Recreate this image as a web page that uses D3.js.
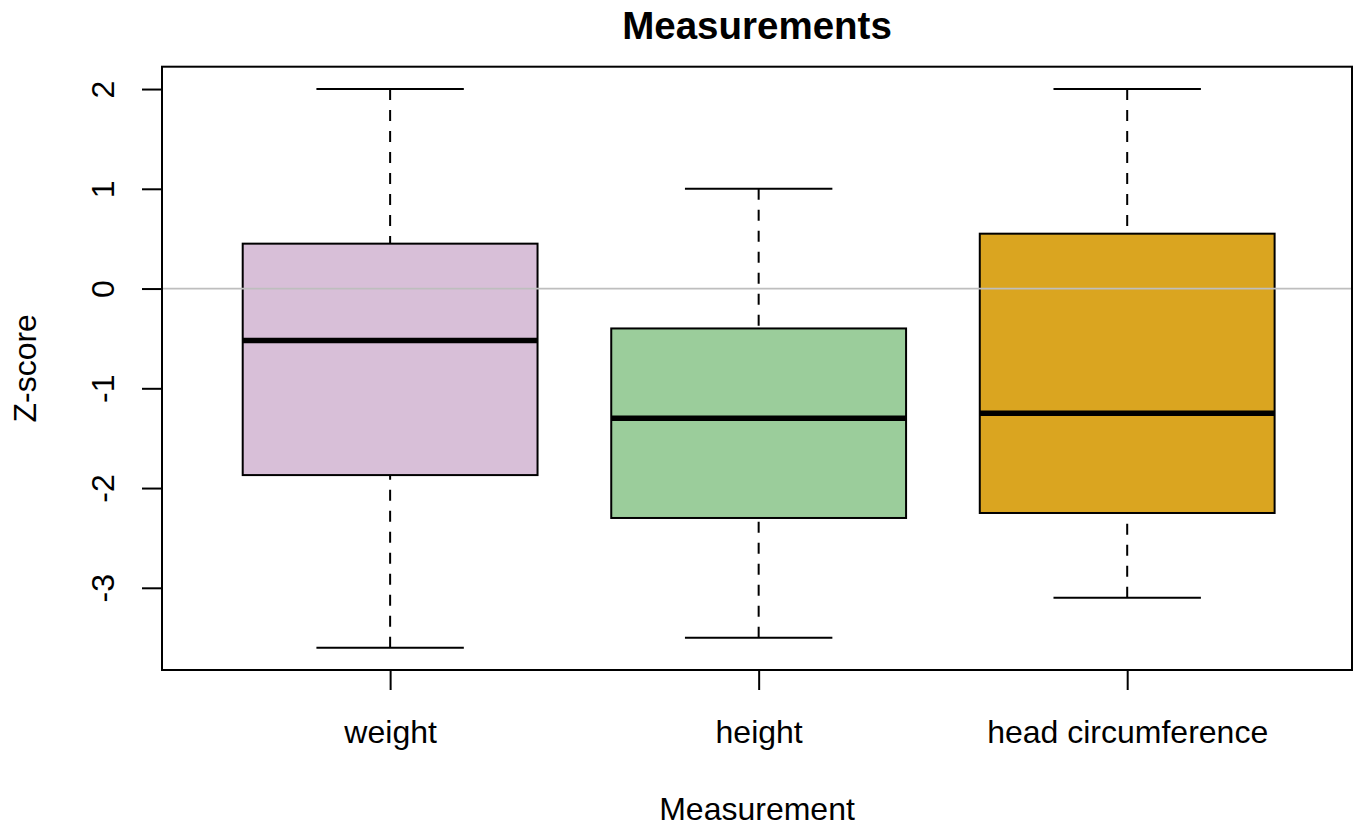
<!DOCTYPE html>
<html>
<head>
<meta charset="utf-8">
<script src="https://cdn.jsdelivr.net/npm/d3@7"></script>
<style>
  body { margin: 0; background: #fff; }
  svg { font-family: "Liberation Sans", Arial, sans-serif; }
</style>
</head>
<body>
<svg id="chart" width="1361" height="827"></svg>
<script>
// box statistics
const categories = ["weight", "height", "head circumference"];
const whiskerLow = [-3.6, -3.5, -3.1];
const lowerQuartile = [-1.87, -2.3, -2.25];
const medians = [-0.52, -1.3, -1.25];
const upperQuartile = [0.45, -0.4, 0.55];
const whiskerHigh = [2, 1, 2];
const boxColors = ["#D8BFD8", "#9BCD9B", "#DAA520"];
const yTicks = [-3, -2, -1, 0, 1, 2];

const svg = d3.select("#chart");
const plot = { left: 162, right: 1352, top: 66.7, bottom: 670 };
const lw = 2;

const data = categories.map((c, i) => ({
  name: c,
  pos: i + 1,
  min: whiskerLow[i],
  q1: lowerQuartile[i],
  med: medians[i],
  q3: upperQuartile[i],
  max: whiskerHigh[i],
  color: boxColors[i]
}));

// R-style extended ranges
const x = d3.scaleLinear()
  .domain([0.381, 3.61])
  .range([plot.left, plot.right]);

const y = d3.scaleLinear()
  .domain([-3.824, 2.224])
  .range([plot.bottom, plot.top]);

const boxHalf = x(1.4) - x(1);
const capHalf = x(1.2) - x(1);

// whiskers (dashed, drawn from the ends toward the hinges)
const g = svg.append("g");

data.forEach(d => {
  g.append("line")
    .attr("x1", x(d.pos)).attr("x2", x(d.pos))
    .attr("y1", y(d.max)).attr("y2", y(d.q3))
    .attr("stroke", "#000").attr("stroke-width", lw)
    .attr("stroke-dasharray", "11,10");
  g.append("line")
    .attr("x1", x(d.pos)).attr("x2", x(d.pos))
    .attr("y1", y(d.min)).attr("y2", y(d.q1))
    .attr("stroke", "#000").attr("stroke-width", lw)
    .attr("stroke-dasharray", "11,10");
  [d.min, d.max].forEach(v => {
    g.append("line")
      .attr("x1", x(d.pos) - capHalf).attr("x2", x(d.pos) + capHalf)
      .attr("y1", y(v)).attr("y2", y(v))
      .attr("stroke", "#000").attr("stroke-width", lw);
  });
});

// boxes
g.selectAll("rect.box")
  .data(data)
  .enter()
  .append("rect")
  .attr("class", "box")
  .attr("x", d => x(d.pos) - boxHalf)
  .attr("y", d => y(d.q3))
  .attr("width", boxHalf * 2)
  .attr("height", d => y(d.q1) - y(d.q3))
  .attr("fill", d => d.color)
  .attr("stroke", "#000")
  .attr("stroke-width", lw);

// medians
g.selectAll("line.median")
  .data(data)
  .enter()
  .append("line")
  .attr("class", "median")
  .attr("x1", d => x(d.pos) - boxHalf)
  .attr("x2", d => x(d.pos) + boxHalf)
  .attr("y1", d => y(d.med))
  .attr("y2", d => y(d.med))
  .attr("stroke", "#000")
  .attr("stroke-width", 5.5);

// reference line at zero
svg.append("line")
  .attr("x1", plot.left).attr("x2", plot.right)
  .attr("y1", y(0)).attr("y2", y(0))
  .attr("stroke", "#BEBEBE")
  .attr("stroke-width", 1.8);

// plot frame
svg.append("rect")
  .attr("x", plot.left).attr("y", plot.top)
  .attr("width", plot.right - plot.left)
  .attr("height", plot.bottom - plot.top)
  .attr("fill", "none")
  .attr("stroke", "#000")
  .attr("stroke-width", lw);

// y axis
const yAxis = svg.append("g")
  .attr("transform", `translate(${plot.left},0)`)
  .call(d3.axisLeft(y).tickValues(yTicks).tickSize(20).tickFormat(d3.format("d")));
yAxis.select(".domain").remove();
yAxis.selectAll(".tick line").attr("stroke", "#000").attr("stroke-width", lw);
yAxis.selectAll(".tick text")
  .attr("x", null).attr("dy", null)
  .attr("fill", "#000")
  .style("font-size", "32px")
  .attr("text-anchor", "middle")
  .attr("transform", "translate(-48,0) rotate(-90)")
  .text(d => d < 0 ? "-" + Math.abs(d) : d);

// x axis
const xAxis = svg.append("g")
  .attr("transform", `translate(0,${plot.bottom})`)
  .call(d3.axisBottom(x).tickValues([1, 2, 3]).tickSize(20)
    .tickFormat(v => categories[v - 1]));
xAxis.select(".domain").remove();
xAxis.selectAll(".tick line").attr("stroke", "#000").attr("stroke-width", lw);
xAxis.selectAll(".tick text")
  .attr("y", 73).attr("dy", 0)
  .attr("fill", "#000")
  .style("font-size", "32px");

// titles
const midX = (plot.left + plot.right) / 2;
svg.append("text")
  .attr("x", midX).attr("y", 39)
  .attr("text-anchor", "middle")
  .style("font-size", "38.5px")
  .style("font-weight", "bold")
  .text("Measurements");

svg.append("text")
  .attr("x", midX).attr("y", 820)
  .attr("text-anchor", "middle")
  .style("font-size", "32px")
  .text("Measurement");

svg.append("text")
  .attr("transform", `translate(36,${(plot.top + plot.bottom) / 2}) rotate(-90)`)
  .attr("text-anchor", "middle")
  .style("font-size", "32px")
  .text("Z-score");
</script>
</body>
</html>
